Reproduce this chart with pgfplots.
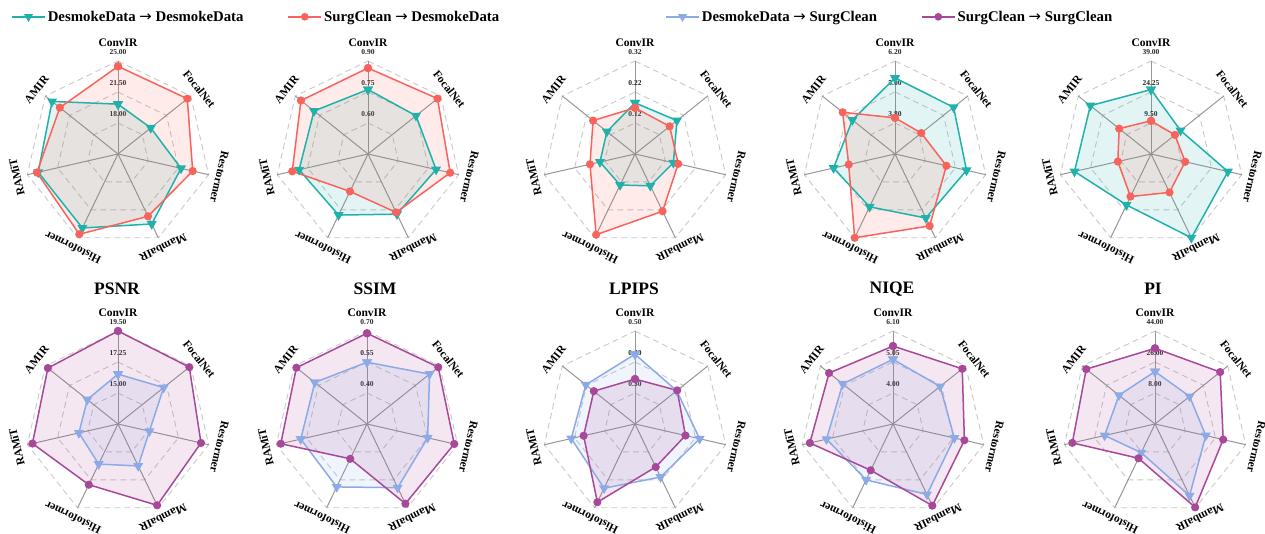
\documentclass[border=0pt]{standalone}
\usepackage{pgfplots}
\pgfplotsset{compat=1.18}
\usepackage{pgfplotstable}
\usepackage{fontspec}
\setmainfont{Liberation Serif}
\newfontfamily\arrfont{DejaVu Sans}
\definecolor{cteal}{RGB}{32,178,170}
\definecolor{cred}{RGB}{250,98,92}
\definecolor{cblue}{RGB}{140,170,230}
\definecolor{cpurp}{RGB}{168,72,152}
\definecolor{cspoke}{RGB}{150,150,150}
\definecolor{cring}{RGB}{200,200,200}
\newcommand{\tickfont}{\bfseries\fontsize{7.5}{8}\selectfont}
\newcommand{\catfont}{\bfseries\fontsize{11.5}{12}\selectfont}
\newcommand{\legfont}{\bfseries\fontsize{14.8}{17}\selectfont}
\newcommand{\titfont}{\bfseries\fontsize{17.5}{20}\selectfont}
\newcommand{\arr}{ {\arrfont\mdseries →} }

% order: ConvIR, FocalNet, Restormer, MambaIR, Histoformer, RAMiT, AMIR (row 7 closes)
\pgfplotstableread{
i A B
0 20.13 24.40
1 19.23 24.51
2 21.80 23.15
3 23.27 22.31
4 23.77 24.56
5 23.74 23.89
6 24.02 22.90
7 20.13 24.40
}\tA
\pgfplotstableread{
i A B
0 0.762 0.866
1 0.747 0.880
2 0.788 0.858
3 0.773 0.764
4 0.778 0.651
5 0.792 0.826
6 0.784 0.865
7 0.762 0.866
}\tB
\pgfplotstableread{
i A B
0 0.185 0.169
1 0.193 0.163
2 0.147 0.163
3 0.134 0.225
4 0.131 0.309
5 0.136 0.169
6 0.136 0.193
7 0.185 0.169
}\tC
\pgfplotstableread{
i A B
0 5.545 4.00
1 5.50 3.90
2 5.44 4.64
3 5.35 5.69
4 4.87 6.20
5 5.04 4.44
6 4.71 5.19
7 5.545 4.00
}\tD
\pgfplotstableread{
i A B
0 25.40 10.55
1 12.70 9.31
2 32.30 11.43
3 39.00 15.02
4 21.65 17.23
5 32.10 10.95
6 31.66 14.13
7 25.40 10.55
}\tE
\pgfplotstableread{
i A B
0 16.37 19.50
1 16.99 19.37
2 15.09 18.93
3 16.13 19.30
4 15.98 17.64
5 15.66 19.12
6 15.60 19.26
7 16.37 19.50
}\tF
\pgfplotstableread{
i A B
0 0.549 0.689
1 0.637 0.691
2 0.551 0.683
3 0.592 0.678
4 0.588 0.437
5 0.579 0.678
6 0.573 0.687
7 0.549 0.689
}\tG
\pgfplotstableread{
i A B
0 0.425 0.345
1 0.372 0.374
2 0.414 0.367
3 0.390 0.354
4 0.430 0.480
5 0.411 0.370
6 0.403 0.370
7 0.425 0.345
}\tH
\pgfplotstableread{
i A B
0 5.14 5.59
1 4.99 5.95
2 5.08 5.43
3 5.60 6.02
4 5.05 4.69
5 5.26 5.84
6 5.13 5.72
7 5.14 5.59
}\tI
\pgfplotstableread{
i A B
0 20.46 33.96
1 15.70 38.38
2 20.24 30.61
3 36.22 43.73
4 8.47 12.09
5 20.02 39.25
6 16.78 41.08
7 20.46 33.96
}\tJ

\newcommand{\radgrid}[5]{%
\begin{scope}[shift={(#1pt,#2pt)}]
  \foreach \rr in {31,62,93}{
    \draw[cring, line width=0.9pt, dash pattern=on 6pt off 4pt] (90:\rr pt) -- (38.5714:\rr pt) -- (-12.8571:\rr pt) -- (-64.2857:\rr pt) -- (-115.7143:\rr pt) -- (-167.1429:\rr pt) -- (141.4286:\rr pt) -- cycle;
  }
  \foreach \aa in {90,38.5714,-12.8571,-64.2857,-115.7143,-167.1429,141.4286}{
    \draw[cspoke, line width=1pt] (0,0) -- (\aa:93pt);
  }
  \node[font=\tickfont, text=black!85, inner sep=0pt] at (0,40pt) {#3};
  \node[font=\tickfont, text=black!85, inner sep=0pt] at (0,71pt) {#4};
  \node[font=\tickfont, text=black!85, inner sep=0pt] at (0,102pt) {#5};
  \node[font=\catfont, inner sep=0pt] at (90:111pt) {ConvIR};
  \node[font=\catfont, inner sep=0pt, rotate=-51.4286] at (38.5714:104pt) {FocalNet};
  \node[font=\catfont, inner sep=0pt, rotate=-102.8571] at (-12.8571:104pt) {Restormer};
  \node[font=\catfont, inner sep=0pt, rotate=-154.2857] at (-64.2857:104pt) {MambaIR};
  \node[font=\catfont, inner sep=0pt, rotate=154.2857] at (-115.7143:104pt) {Histoformer};
  \node[font=\catfont, inner sep=0pt, rotate=102.8571] at (-167.1429:104pt) {RAMiT};
  \node[font=\catfont, inner sep=0pt, rotate=51.4286] at (141.4286:104pt) {AMIR};
\end{scope}}

% table, cx, cy, v0, range, colour A, colour B
\newcommand{\radar}[7]{%
 \addplot[forget plot, draw=none, fill=#6, fill opacity=0.13] table[x expr={#2+93*(\thisrow{A}-(#4))/(#5)*cos(90-51.4285714*\thisrow{i})}, y expr={#3+93*(\thisrow{A}-(#4))/(#5)*sin(90-51.4285714*\thisrow{i})}]{#1};
 \addplot[forget plot, draw=none, fill=#7, fill opacity=0.13] table[x expr={#2+93*(\thisrow{B}-(#4))/(#5)*cos(90-51.4285714*\thisrow{i})}, y expr={#3+93*(\thisrow{B}-(#4))/(#5)*sin(90-51.4285714*\thisrow{i})}]{#1};
 \addplot[forget plot, #6, line width=1.5pt, mark=triangle*, mark size=4.3pt, mark options={rotate=180, solid}] table[x expr={#2+93*(\thisrow{A}-(#4))/(#5)*cos(90-51.4285714*\thisrow{i})}, y expr={#3+93*(\thisrow{A}-(#4))/(#5)*sin(90-51.4285714*\thisrow{i})}]{#1};
 \addplot[forget plot, #7, line width=1.5pt, mark=*, mark size=3.3pt, mark options={solid}] table[x expr={#2+93*(\thisrow{B}-(#4))/(#5)*cos(90-51.4285714*\thisrow{i})}, y expr={#3+93*(\thisrow{B}-(#4))/(#5)*sin(90-51.4285714*\thisrow{i})}]{#1};
}

\begin{document}
\begin{tikzpicture}
\useasboundingbox (0,0) rectangle (1265pt,533pt);
\radgrid{118}{379}{18.00}{21.50}{25.00}
\radgrid{368}{379}{0.60}{0.75}{0.90}
\radgrid{635}{379}{0.12}{0.22}{0.32}
\radgrid{895}{379}{3.80}{5.00}{6.20}
\radgrid{1151}{379}{9.50}{24.25}{39.00}
\radgrid{118}{109}{15.00}{17.25}{19.50}
\radgrid{367}{109}{0.40}{0.55}{0.70}
\radgrid{635}{109}{0.30}{0.40}{0.50}
\radgrid{893}{109}{4.00}{5.05}{6.10}
\radgrid{1155}{109}{8.00}{26.00}{44.00}

\begin{axis}[at={(0pt,0pt)}, anchor=south west, x=1pt, y=1pt,
  xmin=0, xmax=1265, ymin=0, ymax=533, hide axis, clip=false,
  legend columns=2,
  legend style={at={(0.0087,0.9685)}, anchor=west, draw=none, fill=none, inner sep=0pt,
    font=\legfont, nodes={inner sep=2pt},
    /tikz/every even column/.append style={column sep=42pt}},
  legend image code/.code={\draw[mark repeat=2,mark phase=2,#1] plot coordinates {(0pt,0pt) (16.5pt,0pt) (33pt,0pt)};}]
\addlegendimage{cteal, line width=1.6pt, mark=triangle*, mark size=3.6pt, mark options={rotate=180, solid}}
\addlegendentry{DesmokeData\arr DesmokeData}
\addlegendimage{cred, line width=1.6pt, mark=*, mark size=3pt, mark options={solid}}
\addlegendentry{SurgClean\arr DesmokeData}

\radar{\tA}{118}{379}{14.5}{10.5}{cteal}{cred}
\radar{\tB}{368}{379}{0.45}{0.45}{cteal}{cred}
\radar{\tC}{635}{379}{0.02}{0.30}{cteal}{cred}
\radar{\tD}{895}{379}{2.6}{3.6}{cteal}{cred}
\radar{\tE}{1151}{379}{-5.25}{44.25}{cteal}{cred}
\radar{\tF}{118}{109}{12.75}{6.75}{cblue}{cpurp}
\radar{\tG}{367}{109}{0.25}{0.45}{cblue}{cpurp}
\radar{\tH}{635}{109}{0.20}{0.30}{cblue}{cpurp}
\radar{\tI}{893}{109}{2.95}{3.15}{cblue}{cpurp}
\radar{\tJ}{1155}{109}{-10}{54}{cblue}{cpurp}
\end{axis}

\begin{axis}[at={(0pt,0pt)}, anchor=south west, x=1pt, y=1pt,
  xmin=0, xmax=1265, ymin=0, ymax=533, hide axis, clip=false,
  legend columns=2,
  legend style={at={(0.5257,0.9685)}, anchor=west, draw=none, fill=none, inner sep=0pt,
    font=\legfont, nodes={inner sep=2pt},
    /tikz/every even column/.append style={column sep=42pt}},
  legend image code/.code={\draw[mark repeat=2,mark phase=2,#1] plot coordinates {(0pt,0pt) (16.5pt,0pt) (33pt,0pt)};}]
\addplot[draw=none, forget plot] coordinates {(0,0)};
\addlegendimage{cblue, line width=1.6pt, mark=triangle*, mark size=3.6pt, mark options={rotate=180, solid}}
\addlegendentry{DesmokeData\arr SurgClean}
\addlegendimage{cpurp, line width=1.6pt, mark=*, mark size=3pt, mark options={solid}}
\addlegendentry{SurgClean\arr SurgClean}
\end{axis}

\node[font=\titfont] at (117pt,244pt) {PSNR};
\node[font=\titfont] at (375pt,244pt) {SSIM};
\node[font=\titfont] at (634pt,244pt) {LPIPS};
\node[font=\titfont] at (892pt,244pt) {NIQE};
\node[font=\titfont] at (1153pt,244pt) {PI};
\end{tikzpicture}
\end{document}
